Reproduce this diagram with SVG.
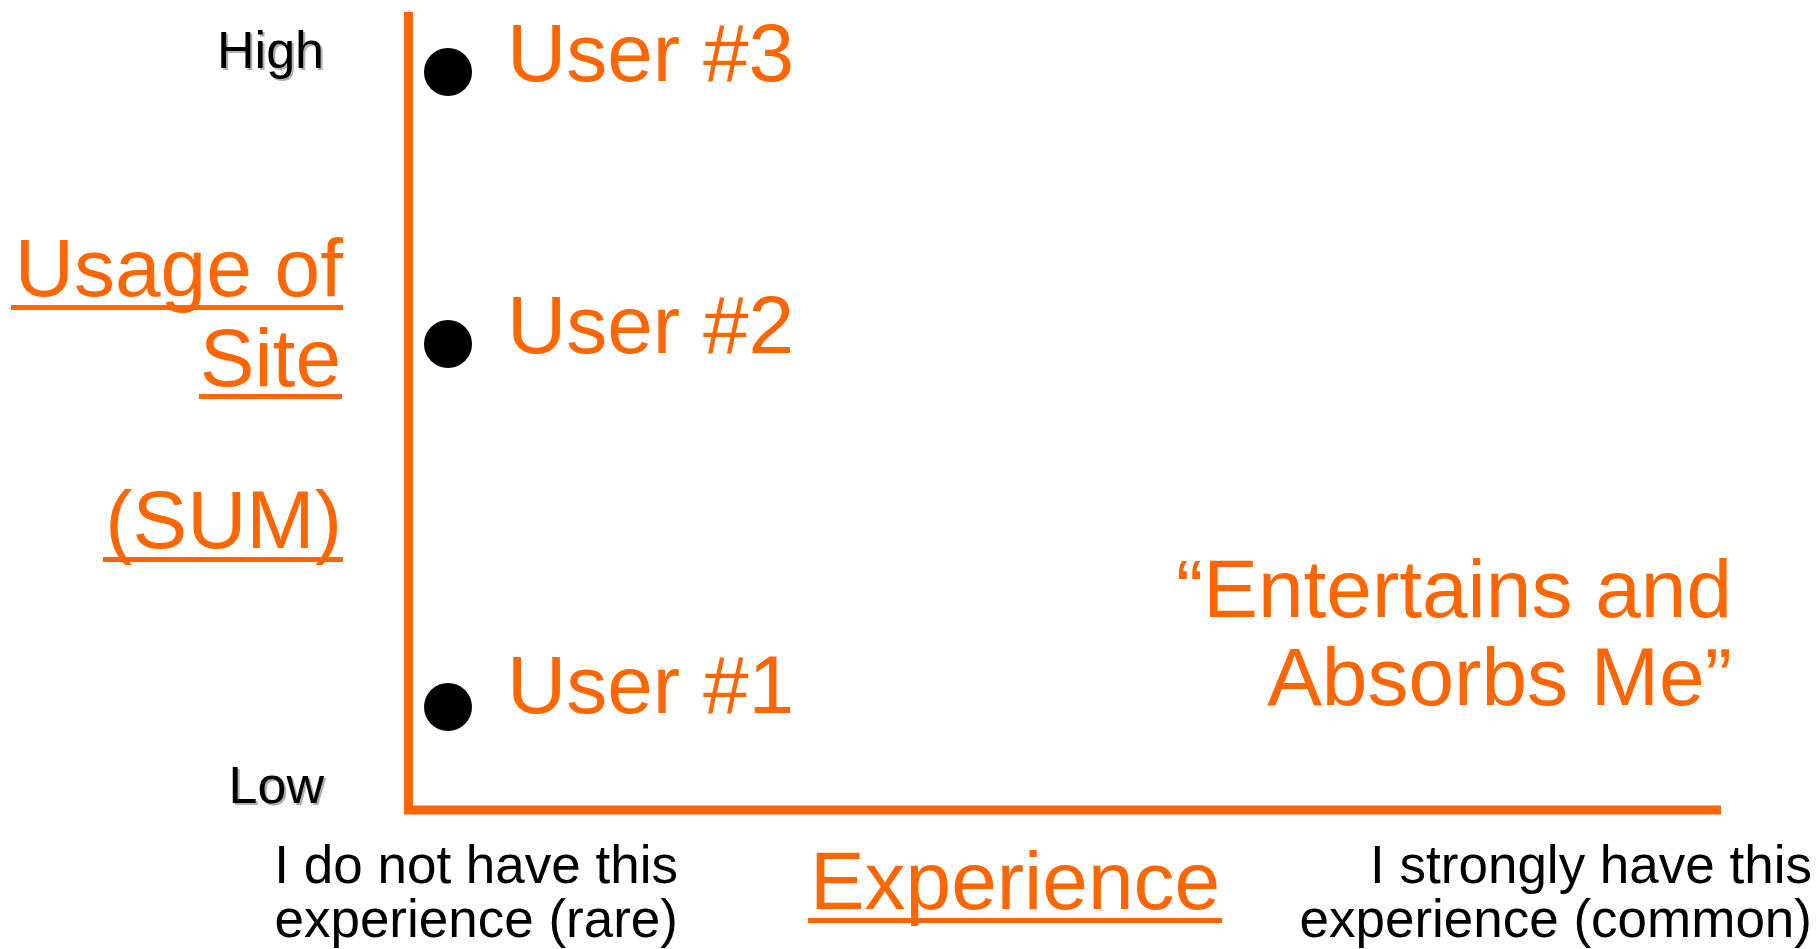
<svg xmlns="http://www.w3.org/2000/svg" width="1818" height="949" viewBox="0 0 1818 949">
  <style>
    .o { fill: #FF6600; font-family: "Liberation Sans", Arial, sans-serif; }
    .k { fill: #000000; font-family: "Liberation Sans", Arial, sans-serif; }
    .sh { fill: #B0B0B0; font-family: "Liberation Sans", Arial, sans-serif; }
    .big { font-size: 82px; }
    .mid { font-size: 52px; }
    .sm { font-size: 53px; }
    .ul { fill: #FF6600; }
    .axis { stroke: #FF6600; stroke-width: 9; fill: none; }
    .dot { fill: #000000; }
  </style>
  <rect width="1818" height="949" fill="#FFFFFF"/>

  <!-- axes -->
  <g id="axes">
    <line class="axis" x1="408.5" y1="12" x2="408.5" y2="811"/>
    <line class="axis" x1="404" y1="810" x2="1721" y2="810"/>
  </g>

  <!-- scale ends of the vertical axis -->
  <g id="label-high">
    <text class="sh mid" x="326" y="70" text-anchor="end">High</text>
    <text class="k mid" x="324" y="68" text-anchor="end">High</text>
  </g>
  <g id="label-low">
    <text class="sh mid" x="326" y="805" text-anchor="end">Low</text>
    <text class="k mid" x="324" y="803" text-anchor="end">Low</text>
  </g>

  <!-- vertical axis title -->
  <g id="title-usage">
    <text class="o big" x="343" y="296" text-anchor="end">Usage of</text>
    <rect class="ul" x="11" y="305" width="332" height="5"/>
    <text class="o big" x="341" y="386" text-anchor="end">Site</text>
    <rect class="ul" x="199" y="394" width="143" height="5"/>
    <text class="o big" x="342" y="548" text-anchor="end">(SUM)</text>
    <rect class="ul" x="103" y="557" width="240" height="5"/>
  </g>

  <!-- data points -->
  <g id="user-3">
    <circle class="dot" cx="448" cy="72" r="24"/>
    <text class="o big" x="507" y="81">User #3</text>
  </g>
  <g id="user-2">
    <circle class="dot" cx="448" cy="344" r="24"/>
    <text class="o big" x="507" y="353">User #2</text>
  </g>
  <g id="user-1">
    <circle class="dot" cx="448" cy="707" r="24"/>
    <text class="o big" x="507" y="713">User #1</text>
  </g>

  <!-- quadrant caption -->
  <g id="caption">
    <text class="o big" x="1732" y="617" text-anchor="end">“Entertains and</text>
    <text class="o big" x="1732" y="705" text-anchor="end">Absorbs Me”</text>
  </g>

  <!-- horizontal axis labels -->
  <g id="label-rare">
    <text class="k sm" x="678" y="883" text-anchor="end">I do not have this</text>
    <text class="k sm" x="678" y="937" text-anchor="end">experience (rare)</text>
  </g>
  <g id="title-experience">
    <text class="o big" x="1015" y="909" text-anchor="middle">Experience</text>
    <rect class="ul" x="808" y="918" width="414" height="5"/>
  </g>
  <g id="label-common">
    <text class="k sm" x="1812" y="883" text-anchor="end">I strongly have this</text>
    <text class="k sm" x="1812" y="937" text-anchor="end">experience (common)</text>
  </g>
</svg>
